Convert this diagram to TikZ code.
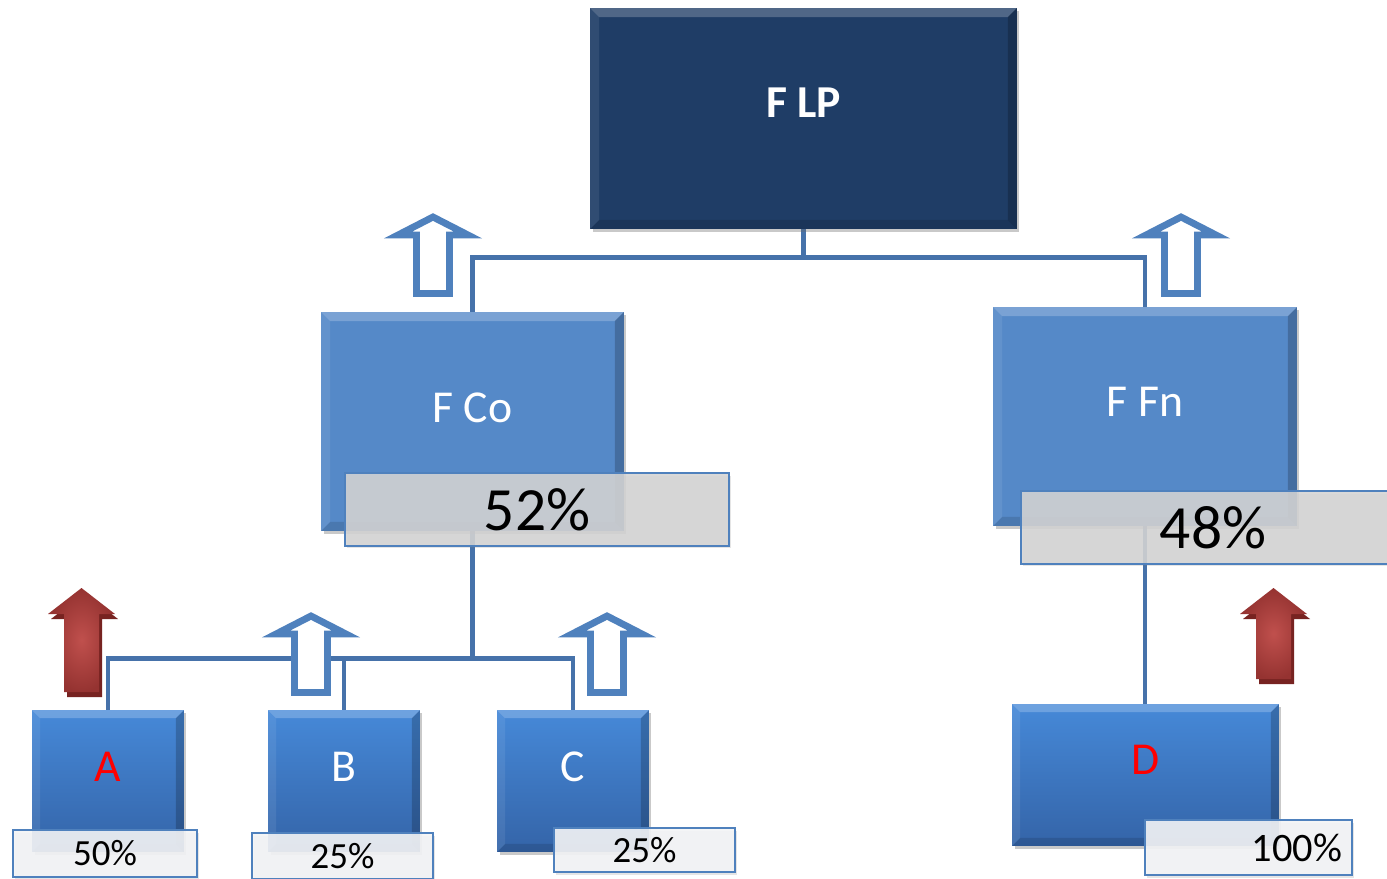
\documentclass[tikz,border=0pt]{standalone}
\usepackage{fontspec}
\setmainfont{Carlito}
\usetikzlibrary{calc,shadows,backgrounds}

\definecolor{navy}{HTML}{1F3D66}
\definecolor{midblue}{HTML}{5589C8}
\definecolor{unittop}{HTML}{4689D8}
\definecolor{unitbot}{HTML}{3464A8}
\definecolor{connblue}{HTML}{4672AA}
\definecolor{arrowblue}{HTML}{4F81BD}
\definecolor{redlight}{HTML}{C0504D}
\definecolor{reddark}{HTML}{953331}
\definecolor{redshadow}{HTML}{772321}
\definecolor{pctgray}{HTML}{D4D4D4}
\definecolor{pctlight}{HTML}{F3F4F6}
\definecolor{labelred}{HTML}{FF0000}

\tikzset{
  box/.style={rectangle, inner sep=0pt, text=white,
    drop shadow={shadow xshift=0.05cm, shadow yshift=-0.06cm, opacity=0.35, fill=black!60}},
  bevel/.style={path picture={
    \coordinate (bvSW) at (path picture bounding box.south west);
    \coordinate (bvNE) at (path picture bounding box.north east);
    \coordinate (bvNW) at (path picture bounding box.north west);
    \coordinate (bvSE) at (path picture bounding box.south east);
    \fill[white,opacity=0.22] (bvNW) -- (bvNE) -- ($(bvNE)+(-#1,#1)$) -- ($(bvNW)+(#1,#1)$) -- cycle;
    \fill[white,opacity=0.08] (bvNW) -- ($(bvNW)+(#1,#1)$) -- ($(bvSW)+(#1,-#1)$) -- (bvSW) -- cycle;
    \fill[black,opacity=0.20] (bvNE) -- (bvSE) -- ($(bvSE)+(-#1,-#1)$) -- ($(bvNE)+(-#1,#1)$) -- cycle;
    \fill[black,opacity=0.12] (bvSW) -- (bvSE) -- ($(bvSE)+(-#1,-#1)$) -- ($(bvSW)+(#1,-#1)$) -- cycle;
  }},
  topbox/.style={box, bevel=9, fill=navy},
  midbox/.style={box, bevel=9, fill=midblue, font=\fontsize{26}{30}\selectfont},
  unitbox/.style={box, bevel=8, top color=unittop, bottom color=unitbot,
    minimum height=2.84cm, font=\fontsize{26}{30}\selectfont},
  pctbig/.style={rectangle, inner sep=0pt, draw=arrowblue, line width=0.9pt,
    fill=pctgray, fill opacity=0.88, text opacity=1, text=black,
    minimum width=7.68cm, minimum height=1.46cm, font=\fontsize{35}{40}\selectfont,
    drop shadow={shadow xshift=0.04cm, shadow yshift=-0.05cm, opacity=0.2, fill=black!50}},
  pctsmall/.style={rectangle, inner sep=0pt, draw=arrowblue, line width=0.9pt,
    fill=pctlight, fill opacity=0.9, text opacity=1, text=black,
    font=\fontsize{21}{25}\selectfont,
    drop shadow={shadow xshift=0.04cm, shadow yshift=-0.05cm, opacity=0.2, fill=black!50}},
  conn/.style={draw=connblue, line width=2.8pt},
  hollow/.style={draw=arrowblue, line width=3.9pt, fill=white, line join=miter},
  pics/hollowup/.style={code={
    \path[hollow] (0,4) -- (35,22) -- (16.5,22) -- (16.5,80.5)
      -- (-16.5,80.5) -- (-16.5,22) -- (-35,22) -- cycle;}},
  pics/redup/.style={code={
    \fill[redshadow] (3,5) -- (36.5,31) -- (20.5,31) -- (20.5,#1+5)
      -- (-14.5,#1+5) -- (-14.5,31) -- (-30.5,31) -- cycle;
    \shade[inner color=redlight, outer color=reddark] (0,0) -- (33.5,26) -- (17.5,26)
      -- (17.5,#1) -- (-17.5,#1) -- (-17.5,26) -- (-33.5,26) -- cycle;}},
}

\begin{document}
\begin{tikzpicture}[x=0.02cm, y=-0.02cm]
\useasboundingbox (0,0) rectangle (1387,879);
\clip (0,0) rectangle (1387,879);

% holding companies
\node[topbox, minimum width=8.54cm, minimum height=4.42cm,
      font=\bfseries\fontsize{26}{30}\selectfont, text depth=17.5pt] (lp) at (803.5,118.5) {F LP};
\node[midbox, minimum width=6.06cm, minimum height=4.38cm, text depth=15.3pt] (fco) at (472.5,421.5) {F Co};
\node[midbox, minimum width=6.08cm, minimum height=4.38cm, text depth=16.4pt] (ffn) at (1145,416.5) {F Fn};

% operating units
\node[unitbox, minimum width=3.04cm, text=labelred, text depth=15.9pt] (a) at (108,781) {A};
\node[unitbox, minimum width=3.04cm, text depth=15.9pt] (b) at (344,781) {B};
\node[unitbox, minimum width=3.04cm, text depth=15.9pt] (c) at (573,781) {C};
\node[unitbox, minimum width=5.34cm, text=labelred, text depth=17pt] (d) at (1145.5,775) {D};

% ownership shares
\node[pctbig] (p52) at (537,509.5) {52\%};
\node[pctbig] (p48) at (1213,527.5) {48\%};
\node[pctsmall, minimum width=3.68cm, minimum height=0.94cm] (pa) at (105,853.5) {50\%};
\node[pctsmall, minimum width=3.62cm, minimum height=0.92cm] (pb) at (342.5,856) {25\%};
\node[pctsmall, minimum width=3.62cm, minimum height=0.88cm] (pc) at (644.5,850) {25\%};
\node[pctsmall, minimum width=4.14cm, minimum height=1.1cm, font=\fontsize{23}{27}\selectfont,
      text width=3.75cm, align=right] (pd) at (1248.5,847.5) {100\%};

% flow arrows
\pic at (433,213) {hollowup};
\pic at (1181,213) {hollowup};
\pic at (311,612) {hollowup};
\pic at (607,612) {hollowup};
\pic at (81.5,588) {redup=104};
\pic at (1273.5,588) {redup=91};

% ownership connectors
\begin{scope}[on background layer]
  \fill[white] (0,0) rectangle (1387,879);
  \draw[conn] (lp.south) -- ++(0,28) coordinate (lphub);
  \draw[conn] (lphub) -| (fco.north);
  \draw[conn] (lphub) -| (ffn.north);
  \draw[conn] (fco.south) -- ++(0,127) coordinate (cohub);
  \draw[conn] (cohub) -| (a.north);
  \draw[conn] (cohub) -| (b.north);
  \draw[conn] (cohub) -| (c.north);
  \draw[conn] (ffn.south) -- (ffn.south |- d.north);
\end{scope}
\end{tikzpicture}
\end{document}
